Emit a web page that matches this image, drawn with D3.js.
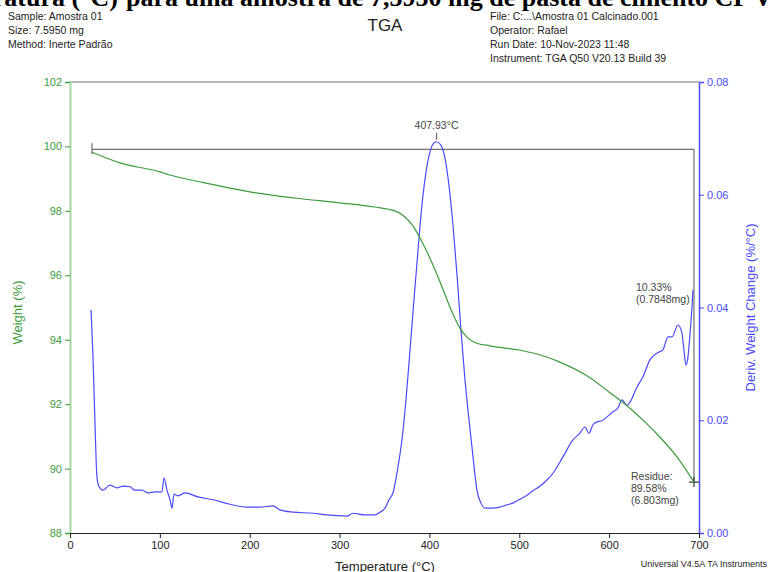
<!DOCTYPE html>
<html>
<head>
<meta charset="utf-8">
<script src="https://cdn.jsdelivr.net/npm/d3@7"></script>
<style>
  html, body { margin: 0; padding: 0; background: #fff; }
  svg { display: block; font-family: Arial, "Liberation Sans", sans-serif; }
</style>
</head>
<body>
<svg id="chart" width="769" height="572"></svg>
<script>
/* ---------- data ---------- */
// TGA weight (%) vs temperature (°C)
const weightTemp = [24.5, 55.6, 100, 110, 150, 200, 250, 300, 339, 361.6, 372.8, 380.6, 389.5, 398.4,
  407.3, 416.2, 425.1, 434, 442.9, 451.8, 467.4, 500, 529.7, 549.7, 575.3, 599.8, 625.4, 649.9, 675.5, 694.4];
const weightPct = [99.82, 99.49, 99.21, 99.12, 98.87, 98.59, 98.40, 98.25, 98.12, 98.0, 97.81, 97.57, 97.16, 96.66,
  96.1, 95.48, 94.86, 94.36, 94.05, 93.9, 93.81, 93.68, 93.47, 93.25, 92.88, 92.38, 91.82, 91.17, 90.36, 89.58];

// DTG deriv. weight change (%/°C) vs temperature (°C)
const derivTemp = [23.4, 25.6, 27.8, 30.0, 32.3, 36.7, 44.5, 52.3, 59.0, 66.8, 72.3, 80.1, 86.8, 94.6, 102.4,
  104.6, 107.9, 111.3, 113.5, 115.7, 120.2, 128.0, 142.4, 159.1, 178.0, 197.0, 211.4, 225.9, 233.7, 248.2,
  270.4, 286.0, 308.3, 314.9, 328.3, 339.4, 345.0, 350.5, 355.0, 359.4, 365.0, 369.4, 373.9, 378.4, 382.8,
  387.3, 391.7, 396.2, 400.6, 405.1, 407.93, 412.8, 417.3, 421.7, 426.2, 430.7, 435.1, 439.6, 442.9, 447.3,
  450.7, 452.9, 457.4, 461.8, 469.6, 478.5, 486.3, 493.0, 500.8, 508.6, 515.2, 523.0, 530.8, 537.5, 548.6,
  559.7, 567.5, 573.1, 577.5, 582.0, 586.4, 592.0, 597.6, 604.2, 609.8, 614.3, 619.8, 623.2, 631.0, 637.6,
  645.4, 653.2, 659.9, 665.5, 669.9, 676.6, 681.0, 683.2, 685.5, 687.7, 689.9, 692.2, 693.3];
const derivVal = [0.0396, 0.0312, 0.0195, 0.0099, 0.0082, 0.0076, 0.0085, 0.0080, 0.0083, 0.0082, 0.0076, 0.0076,
  0.0071, 0.0073, 0.0073, 0.0098, 0.0076, 0.0059, 0.0044, 0.0069, 0.0066, 0.0071, 0.0064, 0.0059, 0.0051, 0.0046,
  0.0046, 0.0048, 0.0041, 0.0037, 0.0035, 0.0032, 0.0030, 0.0035, 0.0032, 0.0032, 0.0037, 0.0044, 0.0059, 0.0071,
  0.0117, 0.0165, 0.0236, 0.0325, 0.0413, 0.0502, 0.0582, 0.0640, 0.0676, 0.0692, 0.0694, 0.0688, 0.0665, 0.0617,
  0.0546, 0.0458, 0.0360, 0.0271, 0.0218, 0.0153, 0.0103, 0.0076, 0.0053, 0.0044, 0.0044, 0.0046, 0.0050, 0.0053,
  0.0060, 0.0067, 0.0075, 0.0083, 0.0094, 0.0106, 0.0135, 0.0165, 0.0177, 0.0188, 0.0177, 0.0192, 0.0197, 0.0199,
  0.0206, 0.0215, 0.0222, 0.0236, 0.0227, 0.0232, 0.0259, 0.0277, 0.0307, 0.0319, 0.0325, 0.0348, 0.0348, 0.0369,
  0.0355, 0.0325, 0.0298, 0.0312, 0.0351, 0.0401, 0.0431];

const tempTicks   = [0, 100, 200, 300, 400, 500, 600, 700];
const weightTicks = [88, 90, 92, 94, 96, 98, 100, 102];
const derivTicks  = [0, 0.02, 0.04, 0.06, 0.08];

const peakTemp = 407.93, peakVal = 0.0694;
const startTemp = 24.5, startWeight = 99.91;
const endTemp = 694.4, residue = 89.58;

const headerLeft  = ["Sample: Amostra 01", "Size:  7.5950 mg", "Method: Inerte Padrão"];
const headerRight = ["File: C:...\\Amostra 01 Calcinado.001", "Operator: Rafael",
                     "Run Date: 10-Nov-2023 11:48", "Instrument: TGA Q50 V20.13 Build 39"];

/* ---------- setup ---------- */
const svg = d3.select("#chart");
const green = "#3c9c3c", blue = "#4a4aff", grey = "#707070";

const x  = d3.scaleLinear().domain([0, 700]).range([70, 699]);
const yL = d3.scaleLinear().domain([88, 102]).range([533, 82]);
const yR = d3.scaleLinear().domain([0, 0.08]).range([533, 82]);

// cut-off caption of the surrounding document
const capFont = "'Liberation Serif', 'Times New Roman', serif";
svg.append("text").attr("x", 118).attr("y", 6).attr("text-anchor", "end")
  .attr("font-family", capFont).attr("font-weight", "bold").attr("font-size", 26).attr("fill", "#000")
  .text("temperatura (°C)");
svg.append("text").attr("x", 126).attr("y", 6)
  .attr("font-family", capFont).attr("font-weight", "bold").attr("font-size", 26).attr("fill", "#000")
  .text("para uma amostra de 7,5950  mg de pasta de cimento CP V");

// header
svg.append("g").selectAll("text").data(headerLeft).enter().append("text")
  .attr("x", 8).attr("y", (d, i) => 20 + i * 14)
  .attr("font-size", 10.5).attr("fill", "#222").text(d => d);
svg.append("g").selectAll("text").data(headerRight).enter().append("text")
  .attr("x", 490).attr("y", (d, i) => 20 + i * 14)
  .attr("font-size", 10.5).attr("fill", "#222").text(d => d);
svg.append("text").attr("x", 385).attr("y", 31).attr("text-anchor", "middle")
  .attr("font-size", 17).attr("fill", "#222").text("TGA");

/* ---------- axes ---------- */
// top frame
svg.append("line").attr("x1", x(0)).attr("x2", x(700)).attr("y1", yL(102)).attr("y2", yL(102))
  .attr("stroke", grey).attr("stroke-width", 1.2);

const gBot = svg.append("g").attr("transform", `translate(0,${yL(88)})`);
gBot.call(d3.axisBottom(x).tickValues(d3.range(0, 701, 20)).tickSize(4).tickFormat(""));
gBot.call(d3.axisBottom(x).tickValues(tempTicks).tickSize(5).tickFormat(d3.format("d")));
gBot.selectAll("path, line").attr("stroke", "#222");
gBot.selectAll("text").attr("font-size", 11).attr("fill", "#222").attr("font-family", "Arial, 'Liberation Sans', sans-serif");

const gL = svg.append("g").attr("transform", `translate(${x(0)},0)`);
gL.call(d3.axisLeft(yL).tickValues(d3.range(88, 102.01, 0.5)).tickSize(4).tickFormat(""));
gL.call(d3.axisLeft(yL).tickValues(weightTicks).tickSize(5).tickFormat(d3.format("d")));
gL.selectAll("path").attr("stroke", "#a6d8a6").attr("stroke-width", 2);
gL.selectAll("line").attr("stroke", green);
gL.selectAll("text").attr("font-size", 11).attr("fill", green).attr("font-family", "Arial, 'Liberation Sans', sans-serif");

const gR = svg.append("g").attr("transform", `translate(${x(700)},0)`);
gR.call(d3.axisRight(yR).tickValues(d3.range(0, 0.0801, 0.005)).tickSize(4).tickFormat(""));
gR.call(d3.axisRight(yR).tickValues(derivTicks).tickSize(5).tickFormat(d3.format(".2f")));
gR.selectAll("path").attr("stroke", blue).attr("stroke-width", 1.5);
gR.selectAll("line").attr("stroke", blue);
gR.selectAll("text").attr("font-size", 11).attr("fill", blue).attr("font-family", "Arial, 'Liberation Sans', sans-serif");
gBot.raise();

// axis titles
svg.append("text").attr("transform", `translate(22,${(82 + 533) / 2 + 5}) rotate(-90)`)
  .attr("text-anchor", "middle").attr("font-size", 13).attr("fill", green).text("Weight (%)");
svg.append("text").attr("transform", `translate(755,${(82 + 533) / 2}) rotate(-90)`)
  .attr("text-anchor", "middle").attr("font-size", 13).attr("fill", blue).text("Deriv. Weight Change (%/°C)");
svg.append("text").attr("x", 385).attr("y", 571).attr("text-anchor", "middle")
  .attr("font-size", 13).attr("fill", "#222").text("Temperature (°C)");
svg.append("text").attr("x", 767).attr("y", 567).attr("text-anchor", "end")
  .attr("font-size", 9).attr("fill", "#222").text("Universal V4.5A TA Instruments");

/* ---------- annotations ---------- */
const ann = svg.append("g").attr("stroke", grey).attr("stroke-width", 1.2);
ann.append("line").attr("x1", x(startTemp)).attr("x2", x(endTemp))
  .attr("y1", yL(startWeight)).attr("y2", yL(startWeight));
ann.append("line").attr("x1", x(endTemp)).attr("x2", x(endTemp))
  .attr("y1", yL(startWeight)).attr("y2", yL(residue));
ann.append("line").attr("x1", x(startTemp)).attr("x2", x(startTemp))
  .attr("y1", yL(startWeight) - 6).attr("y2", yL(startWeight) + 5);
ann.append("line").attr("x1", x(endTemp) - 5).attr("x2", x(endTemp) + 5)
  .attr("y1", yL(residue)).attr("y2", yL(residue)).attr("stroke", "#333");
ann.append("line").attr("x1", x(endTemp)).attr("x2", x(endTemp))
  .attr("y1", yL(residue) - 5).attr("y2", yL(residue) + 5).attr("stroke", "#333");
ann.append("line").attr("x1", x(peakTemp)).attr("x2", x(peakTemp))
  .attr("y1", yR(peakVal) - 9).attr("y2", yR(peakVal) - 2);

svg.append("text").attr("x", x(peakTemp)).attr("y", yR(peakVal) - 13).attr("text-anchor", "middle")
  .attr("font-size", 10.5).attr("fill", "#444").text(`${peakTemp}°C`);

const lossLbl = svg.append("text").attr("font-size", 10.5).attr("fill", "#444");
lossLbl.append("tspan").attr("x", 636).attr("y", 291).text("10.33%");
lossLbl.append("tspan").attr("x", 636).attr("y", 303).text("(0.7848mg)");

const resLbl = svg.append("text").attr("font-size", 10.5).attr("fill", "#444");
["Residue:", `${residue}%`, "(6.803mg)"].forEach((t, i) =>
  resLbl.append("tspan").attr("x", 631).attr("y", 480 + i * 12).text(t));

/* ---------- curves ---------- */
const weightData = weightTemp.map((t, i) => ({ t, v: weightPct[i] }));
const derivData  = derivTemp.map((t, i) => ({ t, v: derivVal[i] }));

svg.append("path").datum(derivData)
  .attr("fill", "none").attr("stroke", blue).attr("stroke-width", 1.2)
  .attr("d", d3.line().x(d => x(d.t)).y(d => yR(d.v)).curve(d3.curveMonotoneX));

svg.append("path").datum(weightData)
  .attr("fill", "none").attr("stroke", green).attr("stroke-width", 1.2)
  .attr("d", d3.line().x(d => x(d.t)).y(d => yL(d.v)).curve(d3.curveMonotoneX));
</script>
</body>
</html>
